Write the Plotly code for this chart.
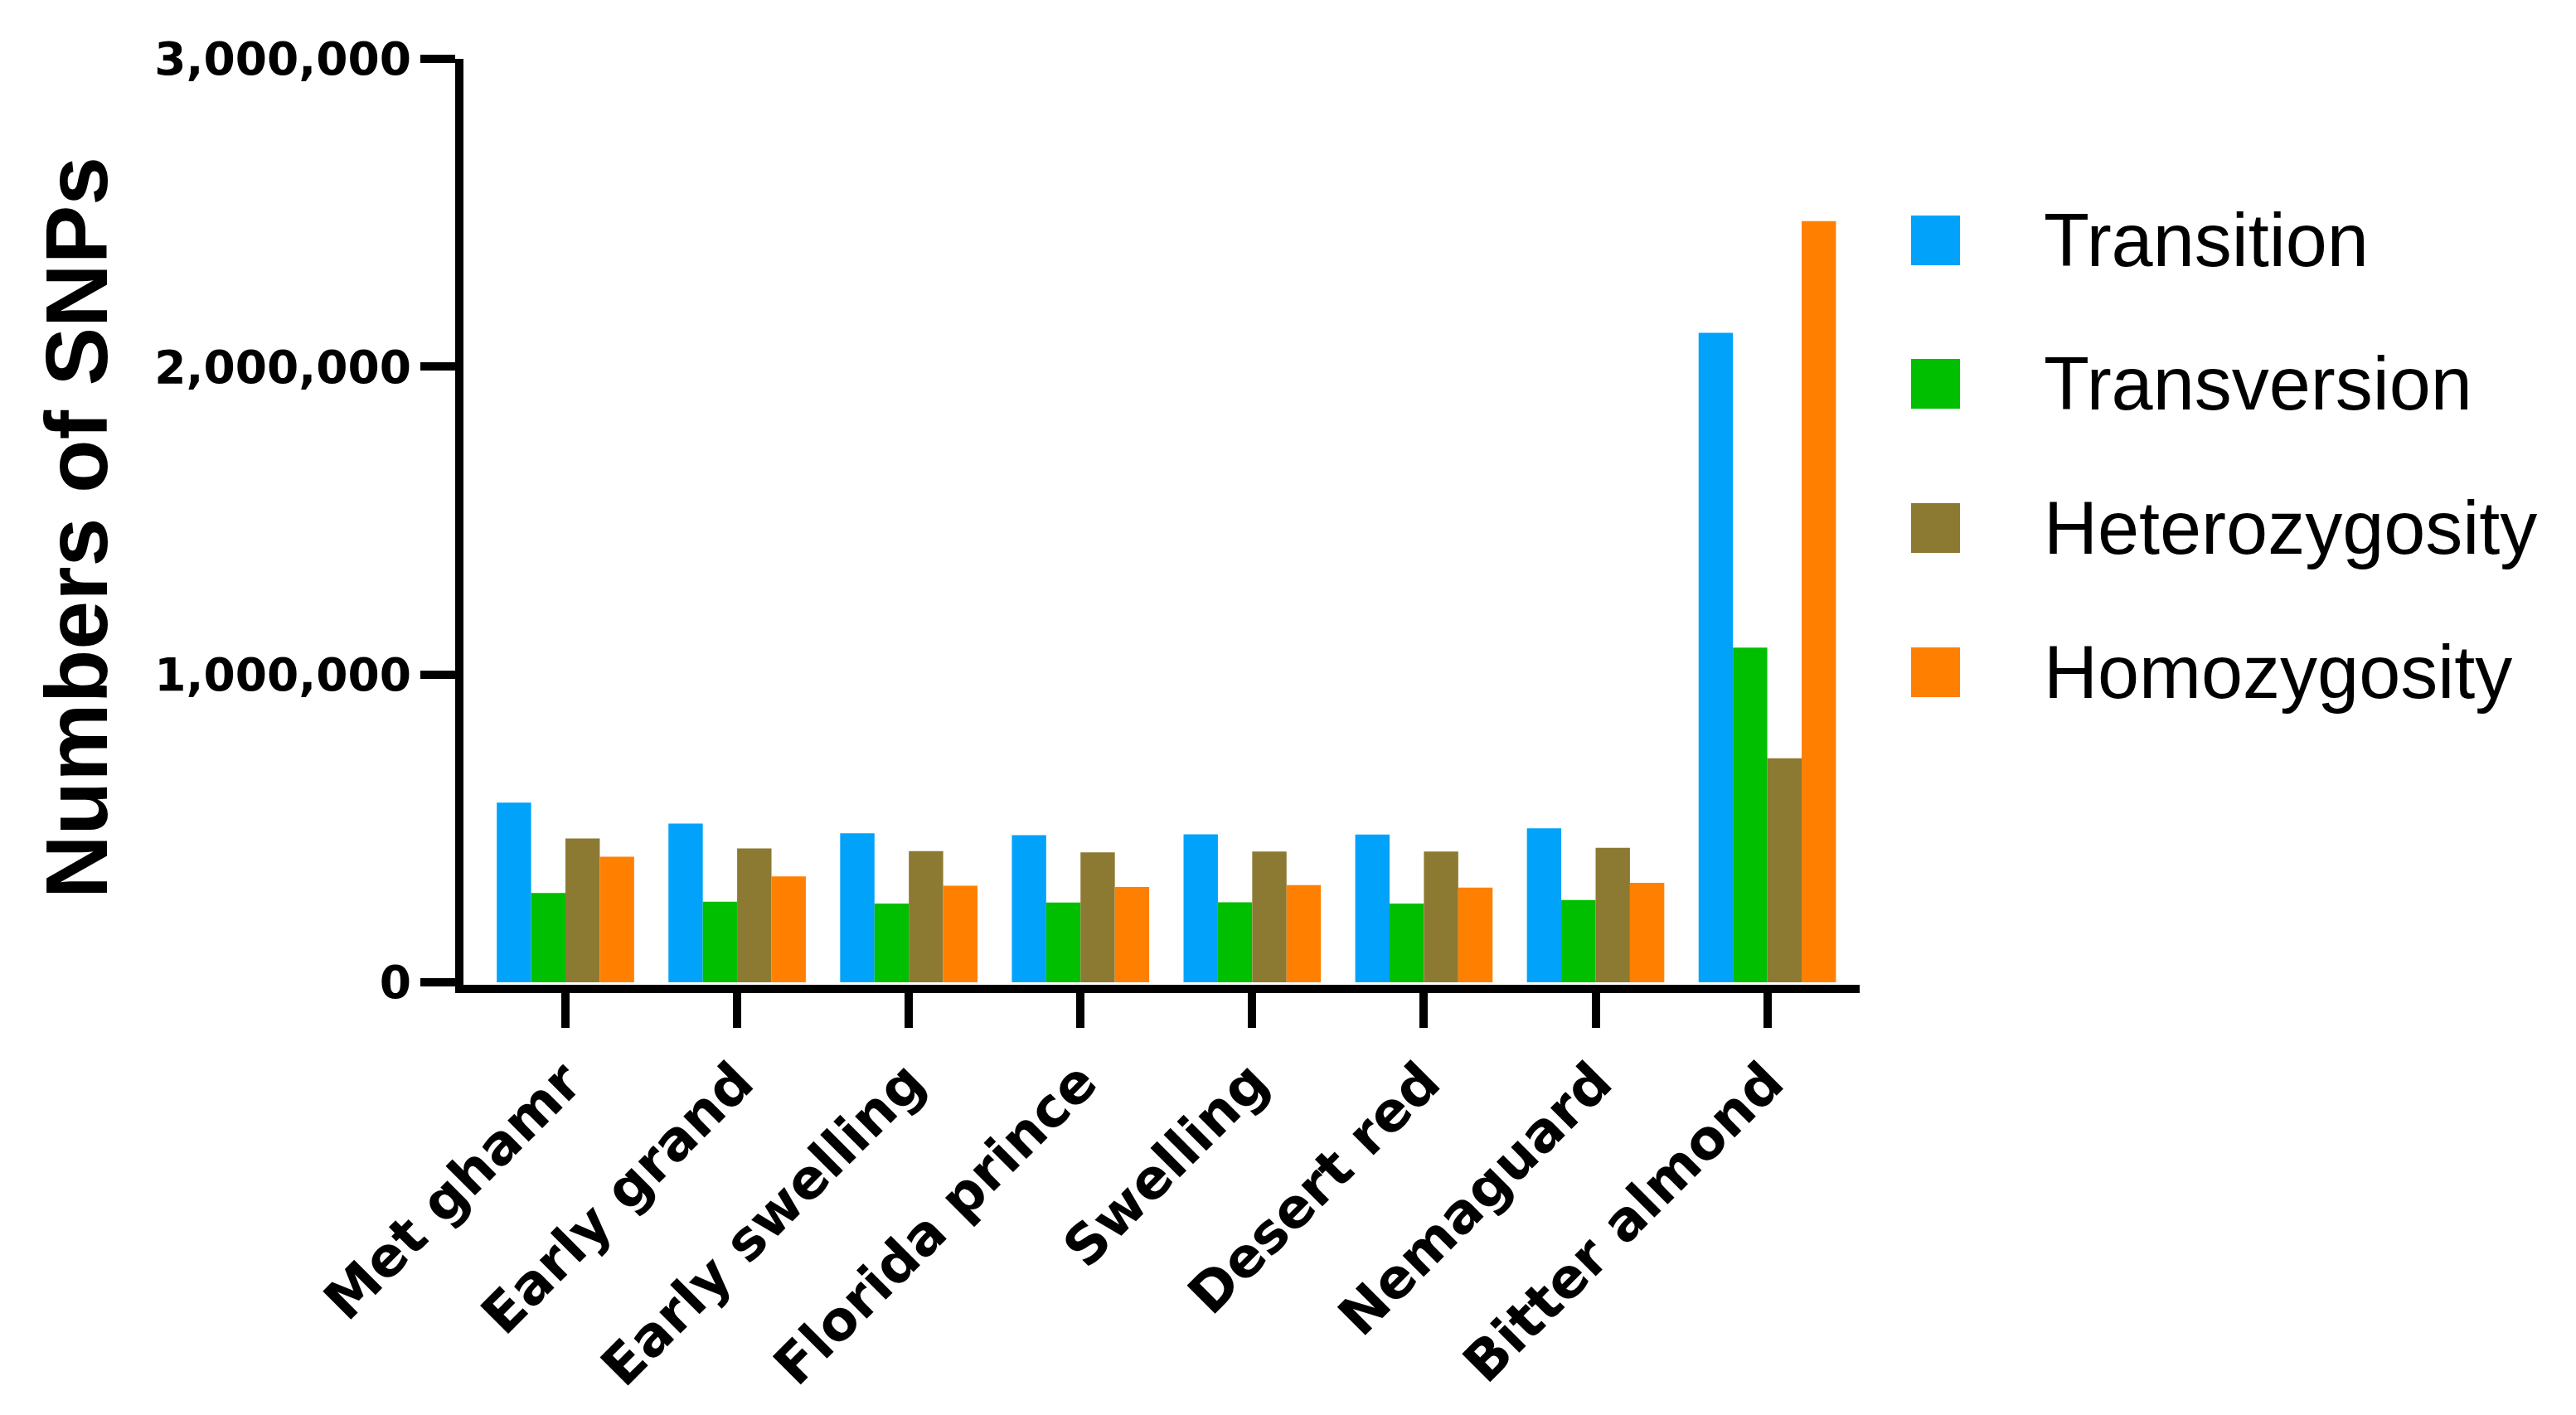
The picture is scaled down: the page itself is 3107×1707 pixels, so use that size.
import plotly.graph_objects as go

categories = ["Met ghamr", "Early grand", "Early swelling", "Florida prince",
              "Swelling", "Desert red", "Nemaguard", "Bitter almond"]
transition = [584000, 516000, 484000, 478000, 481000, 480000, 500000, 2110000]
transversion = [290000, 262000, 256000, 259000, 260000, 256000, 267000, 1087000]
heterozygosity = [467000, 435000, 426000, 422000, 425000, 425000, 437000, 728000]
homozygosity = [408000, 344000, 314000, 310000, 316000, 308000, 323000, 2473000]

series_names = ["Transition", "Transversion", "Heterozygosity", "Homozygosity"]
series_values = [transition, transversion, heterozygosity, homozygosity]
series_colors = ["#00A2FA", "#00BE00", "#8C7A32", "#FF8000"]

y_ticks = [0, 1000000, 2000000, 3000000]

fig = go.Figure()
for name, vals, col in zip(series_names, series_values, series_colors):
    fig.add_trace(go.Bar(name=name, x=categories, y=vals,
                         marker=dict(color=col, line=dict(width=0)),
                         showlegend=False))

W, H = 3107, 1707
OFF = 8                      # page body margin of the html output
PL, PB = 559, 1188           # plot-area left / bottom in page pixels
pw, ph = 1684, 1117
ml = PL - OFF
mt = PB - ph - OFF
mr = W - ml - pw
mb = H - mt - ph

fig.update_layout(
    width=W, height=H, autosize=False,
    margin=dict(l=ml, r=mr, t=mt, b=mb, pad=0),
    paper_bgcolor="white", plot_bgcolor="white",
    barmode="group", bargap=0.2, bargroupgap=0,
    font=dict(family="DejaVu Sans", color="black"),
)

fig.update_xaxes(
    type="category", range=[-0.594, 7.538],
    showline=True, linewidth=10, linecolor="black",
    ticks="outside", ticklen=42, tickwidth=10, tickcolor="black",
    tickangle=-45, showgrid=False, zeroline=False,
    tickfont=dict(family="DejaVu Sans", size=66, weight="bold", color="black"),
)
fig.update_yaxes(
    range=[-8080, 3000000], tickvals=y_ticks, tickformat=",d",
    showline=True, linewidth=10, linecolor="black",
    ticks="outside", ticklen=42, tickwidth=10, tickcolor="black",
    showgrid=False, zeroline=False,
    tickfont=dict(family="DejaVu Sans", size=55, weight="bold", color="black"),
)

def px_x(p):
    return (p - PL) / pw

def px_y(p):
    return (PB - p) / ph

# y-axis title
fig.add_annotation(
    text="Numbers of SNPs", xref="paper", yref="paper",
    x=px_x(92), y=px_y(637), textangle=-90,
    showarrow=False, xanchor="center", yanchor="middle",
    font=dict(family="Liberation Sans", size=106, weight="bold", color="black"),
)

# legend (manual, large square swatches)
leg_y_px = [290, 463, 637, 811]
half = 30 / ph
for name, col, ypx in zip(series_names, series_colors, leg_y_px):
    yc = px_y(ypx)
    fig.add_shape(type="rect", xref="paper", yref="paper",
                  x0=px_x(2305), x1=px_x(2364), y0=yc - half, y1=yc + half,
                  fillcolor=col, line=dict(width=0))
    fig.add_annotation(text=name, xref="paper", yref="paper",
                       x=px_x(2463), y=yc, xanchor="left", yanchor="middle",
                       showarrow=False,
                       font=dict(family="Liberation Sans", size=90, color="black"))

fig.write_html("out.html")
